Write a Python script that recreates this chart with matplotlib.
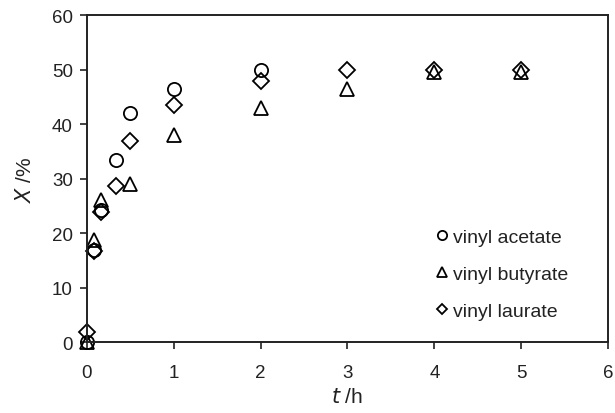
import matplotlib
matplotlib.use('Agg')
import matplotlib.pyplot as plt

plt.rcParams['font.family'] = ['Liberation Sans', 'DejaVu Sans']

# Data
t_acetate = [0, 0.083, 0.167, 0.333, 0.5, 1, 2]
x_acetate = [0, 17, 24.2, 33.4, 42, 46.5, 50]

t_butyrate = [0, 0.083, 0.167, 0.5, 1, 2, 3, 4, 5]
x_butyrate = [0, 18.7, 26, 29, 38, 43, 46.5, 49.5, 49.5]

t_laurate = [0, 0.083, 0.167, 0.333, 0.5, 1, 2, 3, 4, 5]
x_laurate = [1.8, 16.8, 23.9, 28.6, 36.9, 43.5, 48, 50, 50, 50]

fig = plt.figure(figsize=(6.15, 4.14), dpi=100)
ax = fig.add_axes([0.141, 0.171, 0.848, 0.79])

style = dict(linestyle='none', markerfacecolor='none', markeredgecolor='black',
             markeredgewidth=1.3, clip_on=False)
ax.plot(t_acetate, x_acetate, marker='o', markersize=9.5, label='vinyl acetate', **style)
ax.plot(t_butyrate, x_butyrate, marker='^', markersize=10, label='vinyl butyrate', **style)
ax.plot(t_laurate, x_laurate, marker='D', markersize=8, label='vinyl laurate', **style)

ax.set_xlim(0, 6)
ax.set_ylim(0, 60)
ax.set_xticks(range(0, 7))
ax.set_yticks(range(0, 61, 10))
ax.tick_params(direction='out', length=5, width=1.2, labelsize=13.5, colors='#222222')
ax.tick_params(axis='x', pad=11)
ax.tick_params(axis='y', pad=5)
for s in ax.spines.values():
    s.set_linewidth(1.4)
    s.set_color('#222222')

ax.set_xlabel(r'$\it{t}$ /h', fontsize=15, labelpad=4, color='#222222')
ax.set_ylabel(r'$\it{X}$ /%', fontsize=15, labelpad=12, color='#222222')

ax.legend(loc='lower left', frameon=False, fontsize=14, handletextpad=0.15,
          handlelength=0.9, labelspacing=1.0, markerscale=0.7,
          bbox_to_anchor=(0.63, 0.015), labelcolor='#222222')

fig.savefig('out.png', dpi=100)
